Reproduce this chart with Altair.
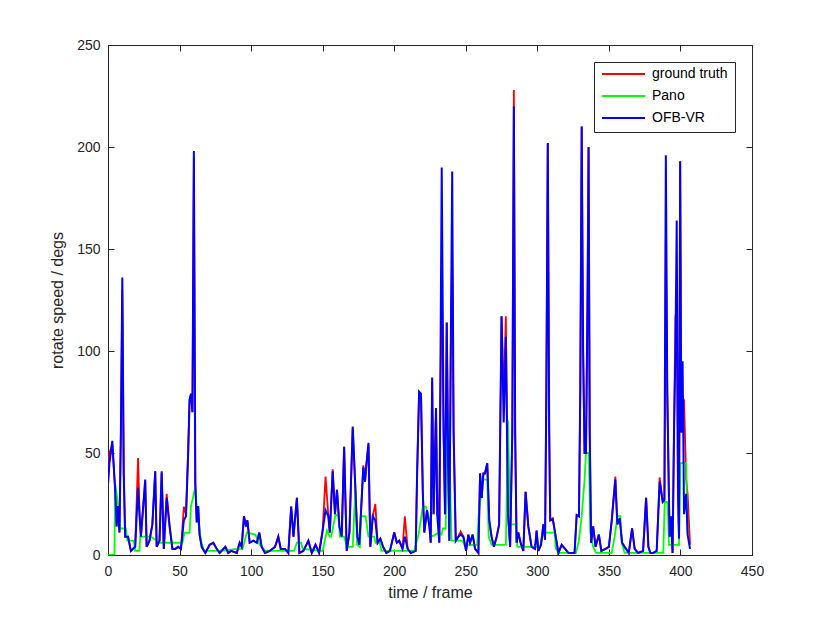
import altair as alt
import pandas as pd

# ---- data ----
blue_frames = [0, 1, 3, 5, 6, 7, 8, 9, 10, 11, 12, 14, 16, 19, 21, 22, 23, 26, 27, 29, 31, 33, 34, 36, 37.5, 39, 41, 43, 45, 47, 49, 51, 53, 54.5, 56, 57, 58, 59, 60, 61, 62, 63, 64, 65.5, 68, 71, 73.6, 76, 78, 82, 84, 86, 90, 92, 93.4, 95, 96.4, 97.4, 99, 101.6, 104, 105.7, 107.4, 109.7, 113, 116.7, 119, 120.7, 123.7, 126, 128, 129.6, 132, 133.7, 136.5, 140, 142.4, 145, 147.5, 150, 152, 154, 155, 157, 158.6, 160, 161.7, 163.3, 165, 166.8, 168.7, 171, 172.6, 174.2, 175.6, 177.3, 178.4, 179.6, 180.5, 182, 183.3, 185, 186.8, 188.4, 190.3, 192.2, 194.5, 197, 200, 201.8, 203.5, 205.8, 207.4, 209.4, 211.6, 215, 216, 217.4, 218.7, 220, 221, 222.9, 224.6, 225.5, 226.5, 227.5, 229.2, 230, 231.5, 232, 233.2, 234.5, 235.5, 236.7, 237.8, 238.5, 239.5, 240.5, 241.5, 243, 244.8, 246.4, 248.3, 250.2, 251.8, 253, 254.8, 256.5, 258.8, 260, 261.1, 262.3, 263.4, 265, 266.4, 268, 269.7, 271.6, 273.3, 275, 276.5, 278, 279.5, 281, 282.5, 283.6, 284.5, 285.5, 286.7, 288.3, 290.2, 291.8, 293.7, 296, 298.4, 299.5, 300.7, 302.6, 304.2, 305.4, 306.3, 307.3, 308.3, 309, 310.8, 312.4, 314.7, 317, 319.4, 321.7, 324, 326, 327.5, 329.1, 330, 331, 332, 333, 334, 335, 335.8, 336.6, 337.6, 339, 340.7, 343, 344.7, 347.7, 350, 352, 354.5, 355.9, 357.6, 359.2, 361, 363.9, 366.2, 368, 370.4, 373.9, 376, 377.6, 379, 381, 383.4, 385.5, 387.6, 388.8, 389.8, 390.8, 392.4, 393.3, 394.5, 395.5, 396.5, 397.4, 398.3, 399, 399.8, 400.6, 401.5, 402.5, 404, 405, 406.7]

blue_values = [35, 45, 56, 32, 14, 24, 11, 60, 136, 40, 9, 9, 2, 4, 33, 20, 9, 37, 4, 7, 15, 41, 4, 7, 41, 3, 28, 14, 3, 3, 4, 3, 17, 19, 50, 76, 79, 70, 198, 35, 16, 24, 10, 4, 1, 5, 6, 3, 1, 4, 1, 2, 1, 6, 4, 19, 14, 17, 6, 7, 6, 11, 4, 1, 2, 4, 9, 3, 3, 1, 23.7, 9, 28, 1, 2, 7, 1, 5, 1, 12, 22, 19, 11, 41, 20, 32, 14, 9, 53, 2, 11, 63, 37, 9, 5, 28, 43, 36, 44, 55, 4, 19, 17, 6, 8, 4, 1, 2, 11, 6, 7, 3, 9, 3, 1, 2, 40, 80, 79, 30, 11, 22, 14, 6, 87, 20, 72, 20, 6, 60, 190, 60, 20, 114, 40, 7, 100, 188, 60, 7, 9, 10, 9, 2, 10, 6, 10, 3, 1, 40, 28, 40, 40, 45, 17, 9, 4, 9, 15, 117, 65, 107, 20, 4, 60, 220, 60, 6, 11, 6, 2, 31, 14, 4, 3, 12, 2, 5, 15, 7.5, 80, 202, 60, 17, 17.5, 11, 1, 5, 3, 1, 1, 1, 19.6, 19, 80, 210, 100, 50, 50, 120, 200, 60, 6, 14, 4, 10, 2, 3, 4, 17, 37, 15, 18, 6, 4, 1, 13, 3, 1, 2, 28, 4, 1, 1, 2, 36, 26, 27, 196, 80, 9, 19, 1, 60, 100, 164, 30, 8, 193, 60, 95, 20, 30, 10, 3]

red_values = [35, 50, 54, 32, 14, 24, 11, 60, 130, 40, 9, 9, 2, 4, 47.5, 22, 9, 36, 4, 7, 15, 41, 4, 7, 40, 3, 30, 15, 3, 3, 4, 3, 23.7, 20, 50, 76, 79, 70, 195, 35, 16, 24, 10, 4, 1, 5, 6, 3, 1, 4, 1, 2, 1, 6, 4, 19, 15, 17, 6, 7, 6, 11, 4, 1, 2, 4, 9, 3, 3, 1, 23.7, 9, 28, 1, 2, 7, 1, 5, 1, 12, 38.4, 19, 11, 42, 20, 32, 14, 9, 53, 2, 11, 62, 37, 9, 5, 28, 44, 36, 44, 54, 4, 19, 25, 6, 8, 4, 1, 2, 11, 6, 7, 3, 19, 3, 1, 2, 40, 80, 79, 30, 11, 22, 14, 6, 85, 20, 72, 33, 6, 60, 140, 60, 20, 114, 40, 7, 100, 145, 60, 7, 9, 11.5, 9, 2, 10, 6, 10, 3, 1, 40, 28, 40, 40, 45, 17, 9, 4, 9, 15, 117, 76, 117, 20, 4, 60, 228, 60, 6, 11, 6, 2, 31, 14, 4, 3, 12, 2, 5, 15, 7.5, 80, 202, 60, 17, 18, 11, 1, 5, 3, 1, 1, 1, 19.6, 19, 80, 210, 100, 50, 50, 120, 200, 60, 6, 14, 4, 10, 2, 3, 4, 17, 38.5, 15, 18, 6, 4, 1, 13, 3, 1, 2, 28, 4, 1, 1, 2, 38, 26, 27, 155, 80, 9, 19, 1, 60, 117, 120, 30, 8, 193, 60, 77, 76, 37, 30, 5]

green_frames = [0, 4.5, 5, 7, 8.5, 12.5, 13.5, 18, 19, 22, 22.5, 30, 36, 52, 53.5, 57, 58, 61, 62, 63, 65, 67, 80, 90, 94, 97, 103, 106, 110, 130, 132, 135, 136, 150, 153, 155, 156, 159, 161, 162, 165, 167, 171, 172, 173, 174, 176, 177, 180, 182, 186, 187, 190, 191, 214, 217, 220, 222, 224, 226, 229, 231, 233, 234, 236, 237, 238, 239, 240, 248, 249, 258, 259, 262, 265, 266, 268, 278, 279.5, 281, 285, 286, 302, 303, 305, 312, 313, 315, 327, 329, 331, 333, 334, 336, 337, 339, 341, 352, 354, 356, 358, 359, 361, 388, 389, 391, 392, 399, 400, 404, 405, 406]

green_values = [0, 0, 35, 25, 13, 13, 7, 7, 2, 2, 9, 9, 6, 6, 11, 11, 24, 33, 24, 17, 7, 2, 2, 3, 3, 11, 10, 5, 2, 2, 6, 6, 3, 2, 12, 9, 9, 20, 19, 9, 9, 4, 4, 20, 32, 5, 4, 19, 19, 9, 9, 6, 6, 2, 2, 10, 23.7, 23.7, 19, 9, 10, 11, 10, 13, 13, 69, 69, 40, 7, 7, 5, 5, 20, 37, 37, 9, 5, 5, 66, 15, 15, 4, 4, 9, 11, 11, 3, 1, 1, 7, 19, 37, 50, 50, 11, 4, 1, 1, 9, 19, 19, 6, 1, 1, 26, 26, 5, 5, 45, 45, 11, 11]

series_names = ["ground truth", "Pano", "OFB-VR"]
series_colors = ["#ff0000", "#00ff00", "#0000ff"]
x_ticks = [0, 50, 100, 150, 200, 250, 300, 350, 400, 450]
y_ticks = [0, 50, 100, 150, 200, 250]

# ---- build table ----
rows = []
for i, (f, v) in enumerate(zip(blue_frames, red_values)):
    rows.append({"frame": f, "speed": v, "series": "ground truth", "idx": i})
for i, (f, v) in enumerate(zip(green_frames, green_values)):
    rows.append({"frame": f, "speed": v, "series": "Pano", "idx": i})
for i, (f, v) in enumerate(zip(blue_frames, blue_values)):
    rows.append({"frame": f, "speed": v, "series": "OFB-VR", "idx": i})
df = pd.DataFrame(rows)

W, H = 644, 510
AX = "#262626"
FONT = "Liberation Sans"

xscale = alt.Scale(domain=[0, 450], nice=False, zero=False)
yscale = alt.Scale(domain=[0, 250], nice=False, zero=False)
color = alt.Color(
    "series:N",
    scale=alt.Scale(domain=series_names, range=series_colors),
    legend=alt.Legend(
        title=None,
        orient="none",
        legendX=486,
        legendY=17,
        symbolType="stroke",
        symbolSize=1849,
        symbolStrokeWidth=1.8,
        clipHeight=10,
        labelFontSize=14,
        labelFont=FONT,
        labelColor="#000000",
        labelOffset=6,
        rowPadding=8,
        padding=7,
        strokeColor=AX,
        fillColor="#ffffff",
        cornerRadius=0,
    ),
)

main_x = alt.Axis(values=x_ticks, ticks=False, grid=False, domain=False, labelFlush=False,
                  title="time / frame", labelPadding=9, titlePadding=6)
main_y = alt.Axis(values=y_ticks, ticks=False, grid=False, domain=False, labelFlush=False,
                  title="rotate speed / degs", labelPadding=8, titlePadding=11)


def series_layer(name, width, x_axis=None, y_axis=None):
    return alt.Chart(df).transform_filter(
        alt.datum.series == name
    ).mark_line(strokeWidth=width, clip=True).encode(
        x=alt.X("frame:Q", scale=xscale, axis=x_axis),
        y=alt.Y("speed:Q", scale=yscale, axis=y_axis),
        color=color,
        order="idx:Q",
    )


red_layer = series_layer("ground truth", 1.8, main_x, main_y)
green_layer = series_layer("Pano", 1.8)
blue_layer = series_layer("OFB-VR", 2.0)

# inward tick marks on all four sides via offset axes
tick_df = pd.DataFrame({"frame": [0, 450], "speed": [0, 250]})
ticks_a = alt.Chart(tick_df).mark_point(opacity=0).encode(
    x=alt.X("frame:Q", scale=xscale,
            axis=alt.Axis(orient="top", offset=-H, values=x_ticks, labels=False,
                          domain=False, grid=False, title=None, tickSize=6)),
    y=alt.Y("speed:Q", scale=yscale,
            axis=alt.Axis(orient="right", offset=-W, values=y_ticks, labels=False,
                          domain=False, grid=False, title=None, tickSize=6)),
)
ticks_b = alt.Chart(tick_df).mark_point(opacity=0).encode(
    x=alt.X("frame:Q", scale=xscale,
            axis=alt.Axis(orient="bottom", offset=-H, values=x_ticks, labels=False,
                          domain=False, grid=False, title=None, tickSize=6)),
    y=alt.Y("speed:Q", scale=yscale,
            axis=alt.Axis(orient="left", offset=-W, values=y_ticks, labels=False,
                          domain=False, grid=False, title=None, tickSize=6)),
)

chart = alt.layer(red_layer, green_layer, blue_layer, ticks_a, ticks_b).resolve_axis(
    x="independent", y="independent"
).properties(
    width=W,
    height=H,
    autosize=alt.AutoSizeParams(type="none"),
    padding={"left": 100, "top": 37, "right": 70, "bottom": 60},
    background="#ffffff",
).configure_view(
    stroke=AX, strokeWidth=1
).configure_axis(
    labelFont=FONT, titleFont=FONT, labelFontSize=14, titleFontSize=16,
    labelColor=AX, titleColor=AX, tickColor=AX, domainColor=AX,
    titleFontWeight="normal", tickWidth=1,
)

chart.save("out.html", embed_options={"renderer": "svg", "actions": False})
